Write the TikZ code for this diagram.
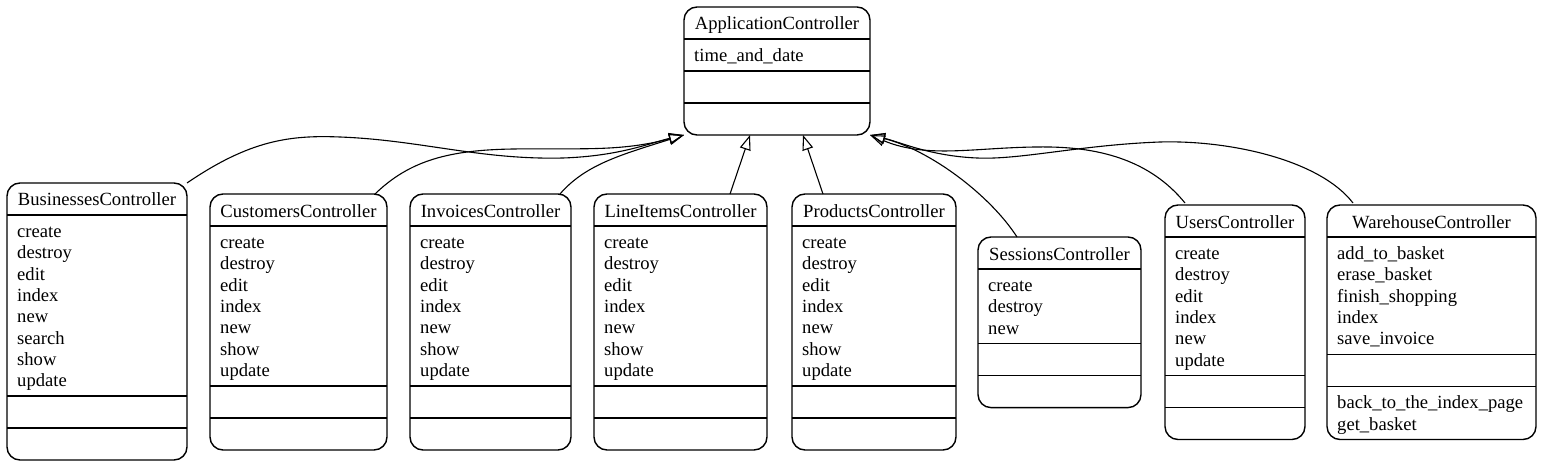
\documentclass[tikz,border=0pt]{standalone}
\usepackage{fontspec}
\setmainfont{Liberation Serif}
\usetikzlibrary{arrows.meta,calc}
\begin{document}
\begin{tikzpicture}[x=1pt,y=-1pt,
  box/.style={draw, rounded corners=13pt, line width=1.4pt, inner sep=0pt, outer sep=0pt, anchor=north west},
  sep/.style={line width=1.4pt},
  ttl/.style={anchor=base, inner sep=0pt, font=\fontsize{18.6}{21.3}\selectfont},
  mth/.style={anchor=base west, inner sep=0pt, font=\fontsize{18.6}{21.3}\selectfont},
  inh/.style={line width=1.1pt, -{Triangle[open,length=15pt,width=11pt]}}]
\useasboundingbox (0,0) rectangle (1543,468);

% ApplicationController
\node[box, minimum width=186pt, minimum height=128pt] (app) at (684,7) {};
\draw[sep] (684,39) -- (870,39);
\draw[sep] (684,71) -- (870,71);
\draw[sep] (684,103) -- (870,103);
\node[ttl] (app-t) at (777,30) {ApplicationController};
\node[mth] (app-m0) at (694,61.5) {time\_and\_date};

% BusinessesController
\node[box, minimum width=180pt, minimum height=277pt] (bus) at (7,183) {};
\draw[sep] (7,215) -- (187,215);
\draw[sep] (7,396) -- (187,396);
\draw[sep] (7,428) -- (187,428);
\node[ttl] (bus-t) at (97,206) {BusinessesController};
\foreach \t [count=\i from 0] in {create,destroy,edit,index,new,search,show,update}
  \node[mth] (bus-m\i) at (17,237.5+21.3*\i) {\t};

% CustomersController
\node[box, minimum width=177pt, minimum height=256pt] (cus) at (210,194) {};
\draw[sep] (210,226) -- (387,226);
\draw[sep] (210,386) -- (387,386);
\draw[sep] (210,418) -- (387,418);
\node[ttl] (cus-t) at (298.5,217) {CustomersController};
\foreach \t [count=\i from 0] in {create,destroy,edit,index,new,show,update}
  \node[mth] (cus-m\i) at (220,248.5+21.3*\i) {\t};

% InvoicesController
\node[box, minimum width=161pt, minimum height=256pt] (inv) at (410,194) {};
\draw[sep] (410,226) -- (571,226);
\draw[sep] (410,386) -- (571,386);
\draw[sep] (410,418) -- (571,418);
\node[ttl] (inv-t) at (490.5,217) {InvoicesController};
\foreach \t [count=\i from 0] in {create,destroy,edit,index,new,show,update}
  \node[mth] (inv-m\i) at (420,248.5+21.3*\i) {\t};

% LineItemsController
\node[box, minimum width=173pt, minimum height=256pt] (lin) at (594,194) {};
\draw[sep] (594,226) -- (767,226);
\draw[sep] (594,386) -- (767,386);
\draw[sep] (594,418) -- (767,418);
\node[ttl] (lin-t) at (680.5,217) {LineItemsController};
\foreach \t [count=\i from 0] in {create,destroy,edit,index,new,show,update}
  \node[mth] (lin-m\i) at (604,248.5+21.3*\i) {\t};

% ProductsController
\node[box, minimum width=164pt, minimum height=256pt] (pro) at (792,194) {};
\draw[sep] (792,226) -- (956,226);
\draw[sep] (792,386) -- (956,386);
\draw[sep] (792,418) -- (956,418);
\node[ttl] (pro-t) at (874,217) {ProductsController};
\foreach \t [count=\i from 0] in {create,destroy,edit,index,new,show,update}
  \node[mth] (pro-m\i) at (802,248.5+21.3*\i) {\t};

% SessionsController
\node[box, minimum width=163pt, minimum height=170.6pt] (ses) at (978,237) {};
\draw[sep] (978,269) -- (1141,269);
\draw[sep] (978,343.6) -- (1141,343.6);
\draw[sep] (978,375.6) -- (1141,375.6);
\node[ttl] (ses-t) at (1059.5,260) {SessionsController};
\foreach \t [count=\i from 0] in {create,destroy,new}
  \node[mth] (ses-m\i) at (988,291.5+21.3*\i) {\t};

% UsersController
\node[box, minimum width=140pt, minimum height=234.5pt] (use) at (1165,205) {};
\draw[sep] (1165,237) -- (1305,237);
\draw[sep] (1165,375.5) -- (1305,375.5);
\draw[sep] (1165,407.5) -- (1305,407.5);
\node[ttl] (use-t) at (1235,228) {UsersController};
\foreach \t [count=\i from 0] in {create,destroy,edit,index,new,update}
  \node[mth] (use-m\i) at (1175,259.5+21.3*\i) {\t};

% WarehouseController
\node[box, minimum width=209pt, minimum height=234.5pt] (war) at (1327,205) {};
\draw[sep] (1327,237) -- (1536,237);
\draw[sep] (1327,354.2) -- (1536,354.2);
\draw[sep] (1327,386.2) -- (1536,386.2);
\node[ttl] (war-t) at (1431.5,228) {WarehouseController};
\foreach \t [count=\i from 0] in {add\_to\_basket,erase\_basket,finish\_shopping,index,save\_invoice}
  \node[mth] (war-m\i) at (1337,259.5+21.3*\i) {\t};
\foreach \t [count=\i from 0] in {back\_to\_the\_index\_page,get\_basket}
  \node[mth] (war-p\i) at (1337,408.7+21.3*\i) {\t};

% inheritance connectors
\draw[inh] (bus.north east) .. controls (250,140) and (290,135) .. (340,137)
  .. controls (420,140) and (480,160) .. (563,158)
  .. controls (620,156) and (650,143) .. (app.south west);
\draw[inh] ($(cus.north east)+(-12,0)$) .. controls (410,160) and (450,150) .. (513,149)
  .. controls (580,148) and (620,152) .. (app.south west);
\draw[inh] ($(inv.north east)+(-11,0)$) .. controls (585,165) and (620,155) .. (app.south west);
\draw[inh] ($(lin.north)+(49.5,0)$) -- ($(app.south)+(-27,0)$);
\draw[inh] ($(pro.north)+(-51,0)$) -- ($(app.south)+(26,0)$);
\draw[inh] ($(ses.north)+(-42.5,0)$) .. controls (990,195) and (930,150) .. (app.south east);
\draw[inh] ($(use.north west)+(20,-2)$) .. controls (1150,160) and (1100,148) .. (1050,147)
  .. controls (980,146) and (930,160) .. (app.south east);
\draw[inh] ($(war.north west)+(26,-2)$) .. controls (1320,160) and (1230,140) .. (1160,142)
  .. controls (1080,145) and (1020,160) .. (977,158)
  .. controls (930,156) and (900,142) .. (app.south east);
\end{tikzpicture}
\end{document}
